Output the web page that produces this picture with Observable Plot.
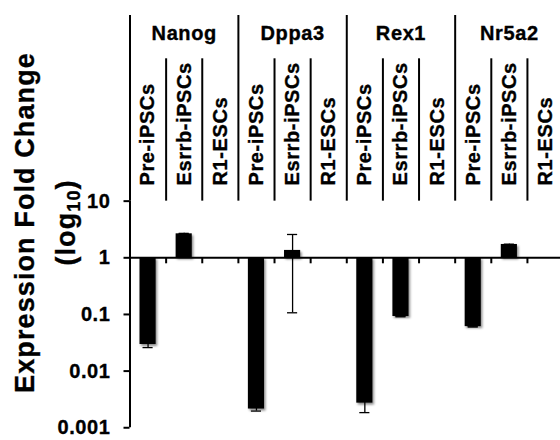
<!DOCTYPE html>
<html><head><meta charset="utf-8">
<script src="https://cdn.jsdelivr.net/npm/d3@7"></script>
<script src="https://cdn.jsdelivr.net/npm/@observablehq/plot@0.6"></script>
<style>
body{margin:0;background:#fff}
svg{display:block}
svg text{letter-spacing:0.6px; stroke:#000; stroke-width:0.35px}
</style>
</head><body><div id="chart"></div>
<script>
// ---- data ----
const genes = ["Nanog", "Dppa3", "Rex1", "Nr5a2"];
const samples = ["Pre-iPSCs", "Esrrb-iPSCs", "R1-ESCs"];
const preIPSC   = [0.0295, 0.00214, 0.00272, 0.061];
const preLow    = [0.026, 0.00197, 0.00185, 0.060];
const preHigh   = [0.034, 0.0024, 0.0039, 0.062];
const esrrbIPSC = [2.65, 1.35, 0.092, 1.72];
const esrrbLow  = [2.6, 0.107, 0.091, 1.70];
const esrrbHigh = [2.7, 2.58, 0.094, 1.74];
const r1ESC     = [1, 1, 1, 1];
const yTicks = [0.001, 0.01, 0.1, 1, 10];

const rows = [];
genes.forEach((g, gi) => {
  [[preIPSC, preLow, preHigh], [esrrbIPSC, esrrbLow, esrrbHigh], [r1ESC, r1ESC, r1ESC]]
    .forEach(([v, lo, hi], si) => {
      rows.push({gene: g, sample: samples[si], idx: gi * 3 + si, value: v[gi], lo: lo[gi], hi: hi[gi]});
    });
});

// ---- layout ----
const W = 560, H = 440;
const leftPx = 129.5, slotPx = 36.13;
const basePx = 257.3, decPx = 56.65, topPx = 15;
const yAt = px => 10 ** ((basePx - px) / decPx);
const font = "'Liberation Sans', Arial, Helvetica, sans-serif";

const chart = Plot.plot({
  width: W, height: H,
  marginLeft: leftPx, marginRight: 0, marginTop: topPx, marginBottom: H - (basePx + 3 * decPx),
  style: {fontFamily: font, fontWeight: "bold", background: "#fff", color: "#000", overflow: "visible"},
  x: {domain: [0, 12], range: [leftPx, leftPx + 12 * slotPx], axis: null},
  y: {type: "log", domain: [0.001, 10], range: [basePx + 3 * decPx, basePx - decPx], axis: null},
  marks: [
    // header separators
    Plot.ruleX(d3.range(0, 13, 3), {x: d => d, y1: 10, y2: yAt(topPx), stroke: "#000", strokeWidth: 2}),
    Plot.ruleX(d3.range(1, 12).filter(i => i % 3), {x: d => d, y1: 10, y2: yAt(58.3), stroke: "#000", strokeWidth: 2}),
    // y axis line
    Plot.ruleX([0], {x: d => d, y1: 0.001, y2: 10, stroke: "#000", strokeWidth: 2}),
    Plot.axisY({ticks: yTicks, tickFormat: d => String(d), tickSize: 6, tickPadding: 13.5,
      fontSize: 20, strokeWidth: 2, label: null}),
    // bars
    Plot.rectY(rows, {x1: d => d.idx, x2: d => d.idx + 1, y1: 1, y2: d => d.value,
      insetLeft: 10, insetRight: 10, fill: "#000", ariaDescription: "bars"}),
    // error bars
    Plot.ruleX(rows.filter(d => d.sample !== "R1-ESCs"), {x: d => d.idx + 0.5, y1: "lo", y2: "hi", stroke: "#000", strokeWidth: 1.3}),
    Plot.ruleY(rows.filter(d => d.sample !== "R1-ESCs"), {y: "lo", x1: d => d.idx + 0.36, x2: d => d.idx + 0.64, stroke: "#000", strokeWidth: 1.3}),
    Plot.ruleY(rows.filter(d => d.sample !== "R1-ESCs"), {y: "hi", x1: d => d.idx + 0.36, x2: d => d.idx + 0.64, stroke: "#000", strokeWidth: 1.3}),
    // baseline at 1 with ticks
    Plot.ruleY([1], {stroke: "#000", strokeWidth: 2}),
    Plot.ruleX(d3.range(1, 13), {x: d => d, y1: 1, y2: yAt(basePx + 6), stroke: "#000", strokeWidth: 2}),
    // header labels
    Plot.text(genes, {x: (d, i) => i * 3 + 1.5, y: yAt(39.3), text: d => d, lineAnchor: "bottom", fontSize: 20}),
    Plot.text(rows, {x: d => d.idx + 0.5, y: yAt(185), text: "sample", rotate: -90,
      textAnchor: "start", lineAnchor: "middle", fontSize: 20}),
    // y title
    Plot.text(["Expression Fold Change"], {frameAnchor: "left", dx: 33.3 - leftPx, y: yAt(222), text: d => d,
      rotate: -90, textAnchor: "middle", lineAnchor: "bottom", fontSize: 27, ariaDescription: "ytitle"}),
    Plot.text(["(log10)"], {frameAnchor: "left", dx: 74 - leftPx, y: yAt(222), text: d => d,
      rotate: -90, textAnchor: "middle", lineAnchor: "bottom", fontSize: 27, ariaDescription: "ytitle2"})
  ]
});

// drop shadow for bars
const ns = "http://www.w3.org/2000/svg";
const defs = document.createElementNS(ns, "defs");
defs.innerHTML = '<filter id="shadow" x="-50%" y="-50%" width="200%" height="200%">' +
  '<feDropShadow dx="1.5" dy="2" stdDeviation="1.3" flood-color="#000" flood-opacity="0.45"/></filter>';
chart.insertBefore(defs, chart.firstChild);
const rectTarget = chart.querySelector('[aria-description="bars"]') ||
  (chart.querySelector('rect[x]') || {}).parentNode;
if (rectTarget) rectTarget.setAttribute("filter", "url(#shadow)");

// title letter spacing + subscript
chart.querySelectorAll("text").forEach(t => {
  if (t.textContent === "Expression Fold Change") t.style.letterSpacing = "1.1px";
  if (t.textContent === "(log10)") {
    t.style.letterSpacing = "1.1px";
    t.textContent = "(log";
    const sub = document.createElementNS(ns, "tspan");
    sub.setAttribute("font-size", "18");
    sub.setAttribute("dy", "5");
    sub.textContent = "10";
    const close = document.createElementNS(ns, "tspan");
    close.setAttribute("dy", "-5");
    close.textContent = ")";
    t.appendChild(sub);
    t.appendChild(close);
  }
});

document.getElementById("chart").appendChild(chart);
</script>
</body></html>
